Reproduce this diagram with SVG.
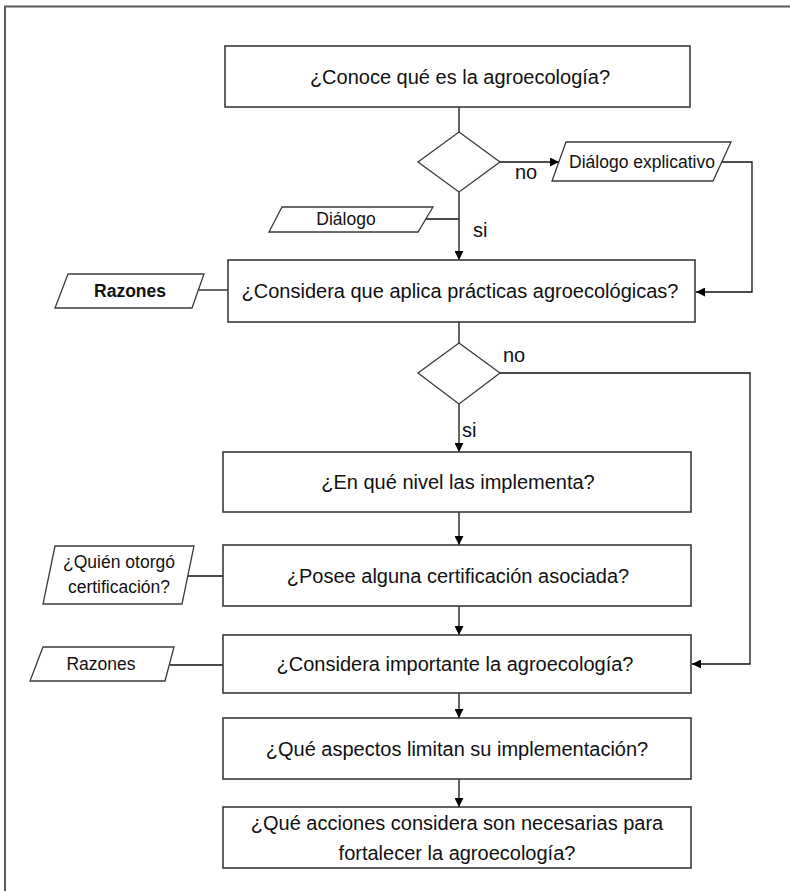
<svg xmlns="http://www.w3.org/2000/svg" width="790" height="891" viewBox="0 0 790 891">
<defs>
<marker id="arr" viewBox="0 0 10 10" refX="10" refY="5" markerWidth="9" markerHeight="9" markerUnits="userSpaceOnUse" orient="auto">
<path d="M0,0 L10,5 L0,10 z" fill="#000"/>
</marker>
<style>
.box{fill:#fff;stroke:#3a3a3a;stroke-width:1.6}
.shape{fill:#fff;stroke:#3a3a3a;stroke-width:1.3}
.ln{fill:none;stroke:#111;stroke-width:1.3}
.t{font-family:"Liberation Sans",Arial,sans-serif;font-size:20px;fill:#111;text-anchor:middle}
.s{font-family:"Liberation Sans",Arial,sans-serif;font-size:17.5px;fill:#111;text-anchor:middle}
.b{font-weight:bold}
.lbl{font-family:"Liberation Sans",Arial,sans-serif;font-size:20px;fill:#111}
.frame{fill:none;stroke:#5a5a5a;stroke-width:2}
</style>
</defs>
<rect x="0" y="0" width="790" height="891" fill="#fff"/>
<polyline class="frame" points="5,891 5,6.5 790,6.5"/>

<g id="connectors">
<line class="ln" x1="459" y1="107" x2="459" y2="132"/>
<line class="ln" x1="500" y1="162" x2="559" y2="162" marker-end="url(#arr)"/>
<polyline class="ln" points="722,162 752,162 752,292 696,292" marker-end="url(#arr)"/>
<line class="ln" x1="459" y1="192" x2="459" y2="260" marker-end="url(#arr)"/>
<line class="ln" x1="426" y1="219" x2="459" y2="219"/>
<line class="ln" x1="198" y1="290" x2="228" y2="290"/>
<line class="ln" x1="459" y1="322" x2="459" y2="343"/>
<polyline class="ln" points="500,373 750,373 750,664 692,664" marker-end="url(#arr)"/>
<line class="ln" x1="459" y1="404" x2="459" y2="452" marker-end="url(#arr)"/>
<line class="ln" x1="459" y1="512" x2="459" y2="545" marker-end="url(#arr)"/>
<line class="ln" x1="188" y1="576" x2="223" y2="576"/>
<line class="ln" x1="459" y1="606" x2="459" y2="635" marker-end="url(#arr)"/>
<line class="ln" x1="170" y1="665" x2="223" y2="665"/>
<line class="ln" x1="459" y1="693" x2="459" y2="718" marker-end="url(#arr)"/>
<line class="ln" x1="459" y1="779" x2="459" y2="807" marker-end="url(#arr)"/>
<text class="lbl" x="515" y="179">no</text>
<text class="lbl" x="473" y="237">si</text>
<text class="lbl" x="503" y="362">no</text>
<text class="lbl" x="462" y="437">si</text>
</g>

<g id="n1">
<rect class="box" x="225" y="46" width="465" height="61"/>
<text class="t" x="460" y="83.5">¿Conoce qué es la agroecología?</text>
</g>
<g id="d1">
<polygon class="shape" points="459,132 500,162 459,192 418,162"/>
</g>
<g id="p_dialogo_explicativo">
<polygon class="shape" points="566,142 731,142 713,181 552,181"/>
<text class="s" x="642" y="168">Diálogo explicativo</text>
</g>
<g id="p_dialogo">
<polygon class="shape" points="282,207 433,207 418,232 269,232"/>
<text class="s" x="346" y="225">Diálogo</text>
</g>
<g id="n2">
<rect class="box" x="228" y="260" width="467" height="62"/>
<text class="t" x="460" y="298">¿Considera que aplica prácticas agroecológicas?</text>
</g>
<g id="p_razones1">
<polygon class="shape" points="68,274 204,274 192,308 55,308"/>
<text class="s b" x="130" y="297">Razones</text>
</g>
<g id="d2">
<polygon class="shape" points="459,343 500,373 459,404 418,373"/>
</g>
<g id="n3">
<rect class="box" x="223" y="452" width="468" height="60"/>
<text class="t" x="458" y="489">¿En qué nivel las implementa?</text>
</g>
<g id="n4">
<rect class="box" x="223" y="545" width="468" height="61"/>
<text class="t" x="458" y="582.5">¿Posee alguna certificación asociada?</text>
</g>
<g id="p_quien">
<polygon class="shape" points="55,546 194,546 182,604 43,604"/>
<text class="s" x="119" y="568">¿Quién otorgó</text>
<text class="s" x="119" y="593">certificación?</text>
</g>
<g id="n5">
<rect class="box" x="223" y="635" width="468" height="58"/>
<text class="t" x="455" y="671">¿Considera importante la agroecología?</text>
</g>
<g id="p_razones2">
<polygon class="shape" points="43,647 174,647 165,681 30,681"/>
<text class="s" x="101" y="670">Razones</text>
</g>
<g id="n6">
<rect class="box" x="223" y="718" width="468" height="61"/>
<text class="t" x="457" y="755.5">¿Qué aspectos limitan su implementación?</text>
</g>
<g id="n7">
<rect class="box" x="223" y="807" width="468" height="61"/>
<text class="t" x="457" y="830">¿Qué acciones considera son necesarias para</text>
<text class="t" x="457" y="860">fortalecer la agroecología?</text>
</g>
</svg>
